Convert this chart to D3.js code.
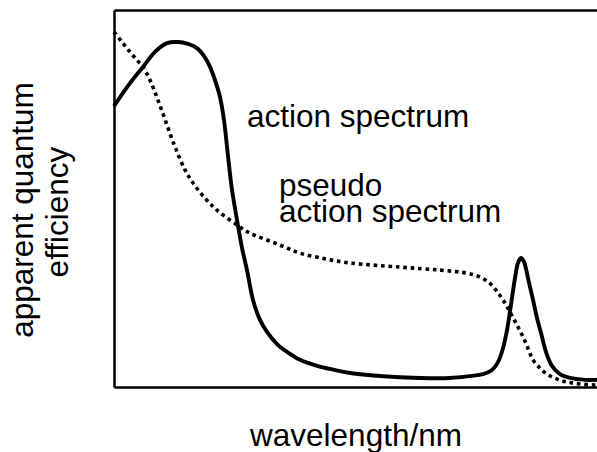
<!DOCTYPE html>
<html><head><meta charset="utf-8">
<script src="https://cdn.jsdelivr.net/npm/d3@7"></script>
<style>body{margin:0;background:#fff}svg{display:block}text{font-family:"Liberation Sans",Arial,sans-serif;fill:#000}</style>
</head><body><svg id="c" width="597" height="452"></svg>
<script>
// relative wavelength (0-100) and apparent quantum efficiency (0-1)
const actionX = [0,3.31,6.0,8.49,10.97,13.25,15.32,17.18,18.63,19.88,20.91,21.95,22.77,23.40,23.81,24.43,25.47,26.50,27.54,28.78,30.23,31.68,33.75,35.82,38.51,42.03,45.76,48.86,55.07,63.35,69.57,73.71,76.40,78.26,79.50,80.54,81.37,82.19,83.02,83.64,84.27,84.89,85.71,86.75,87.58,88.41,89.44,90.68,92.34,94.41,97.52,100];
const actionY = [0.745,0.806,0.849,0.889,0.912,0.915,0.910,0.899,0.878,0.849,0.814,0.769,0.708,0.637,0.589,0.523,0.443,0.369,0.310,0.231,0.178,0.146,0.114,0.093,0.072,0.056,0.045,0.037,0.029,0.024,0.024,0.029,0.034,0.045,0.066,0.103,0.151,0.218,0.289,0.329,0.342,0.332,0.289,0.231,0.183,0.143,0.093,0.056,0.034,0.024,0.019,0.019];
const pseudoX = [0,1.66,3.31,4.76,6.0,7.45,9.11,10.97,12.63,14.70,16.36,18.84,21.33,25.47,28.16,31.68,35.40,38.51,43.69,48.86,59.21,67.49,73.08,75.36,77.43,79.09,80.54,81.99,83.44,84.68,85.71,86.75,88.20,89.65,91.72,93.79,96.48,100];
const pseudoY = [0.942,0.915,0.889,0.867,0.849,0.814,0.761,0.695,0.637,0.576,0.541,0.501,0.469,0.430,0.408,0.390,0.371,0.355,0.340,0.329,0.318,0.310,0.302,0.294,0.279,0.257,0.231,0.199,0.164,0.133,0.103,0.072,0.050,0.034,0.021,0.013,0.008,0.005];
const labels = {x:"wavelength/nm", y:["apparent quantum","efficiency"], action:"action spectrum", pseudo:["pseudo","action spectrum"]};

const svg = d3.select("#c");
const x = d3.scaleLinear().domain([0,100]).range([114,597]);
const y = d3.scaleLinear().domain([0,1]).range([387,10]);

const line = d3.line().x(d=>x(d[0])).y(d=>y(d[1])).curve(d3.curveCatmullRom.alpha(0.5));
const actionData = actionX.map((v,i)=>[v,actionY[i]]);
const pseudoData = pseudoX.map((v,i)=>[v,pseudoY[i]]);

svg.append("path").datum(pseudoData).attr("d",line).attr("fill","none").attr("stroke","#000")
  .attr("stroke-width",3.6).attr("stroke-dasharray","3.6 3.8");
svg.append("path").datum(actionData).attr("d",line).attr("fill","none").attr("stroke","#000")
  .attr("stroke-width",3.9).attr("stroke-linejoin","round");

// frame via axes without ticks
const axB = d3.axisBottom(x).tickValues([]).tickSizeOuter(0);
const axT = d3.axisTop(x).tickValues([]).tickSizeOuter(0);
const axL = d3.axisLeft(y).tickValues([]).tickSizeOuter(0);
svg.append("g").attr("transform","translate(0,387)").call(axB);
svg.append("g").attr("transform","translate(0,10)").call(axT);
svg.append("g").attr("transform","translate(114,0)").call(axL);
svg.selectAll(".domain").attr("stroke","#000").attr("stroke-width",2.5);

const fs = 31.5;
svg.append("text").attr("x",356).attr("y",446).attr("text-anchor","middle").attr("font-size",fs).text(labels.x);
svg.append("text").attr("transform","translate(33,210) rotate(-90)").attr("text-anchor","middle").attr("font-size",fs).text(labels.y[0]);
svg.append("text").attr("transform","translate(68,212) rotate(-90)").attr("text-anchor","middle").attr("font-size",fs).text(labels.y[1]);
svg.append("text").attr("x",247).attr("y",127).attr("font-size",fs).text(labels.action);
svg.append("text").attr("x",279).attr("y",196).attr("font-size",fs).text(labels.pseudo[0]);
svg.append("text").attr("x",279).attr("y",222).attr("font-size",fs).text(labels.pseudo[1]);
</script></body></html>
